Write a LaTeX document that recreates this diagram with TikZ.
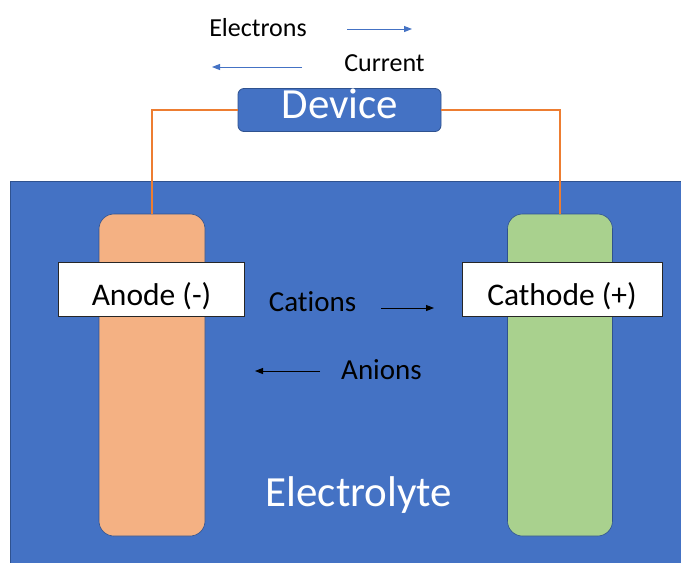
\documentclass[tikz,border=0pt]{standalone}
\usepackage{fontspec}
\setmainfont{Carlito}[Ligatures=NoCommon]
\usetikzlibrary{arrows.meta}
\definecolor{elblue}{HTML}{4472C4}
\definecolor{darkblue}{HTML}{2F528F}
\definecolor{anodefill}{HTML}{F4B183}
\definecolor{cathfill}{HTML}{A9D18E}
\definecolor{wirecol}{HTML}{ED7D31}
\tikzset{
  electrode/.style={draw=darkblue, line width=0.6pt, rounded corners=15pt, minimum width=106pt, minimum height=322pt, inner sep=0pt},
  labelbox/.style={draw=black!85, line width=0.8pt, fill=white, minimum height=54pt, inner sep=0pt},
  txt/.style={inner sep=0pt, anchor=base},
  wireline/.style={draw=wirecol, line width=2pt},
  bluearrow/.style={draw=elblue, line width=1pt, -{Triangle[length=8pt,width=6pt]}},
  blackarrow/.style={draw=black, line width=1pt, -{Triangle[length=8pt,width=6pt]}},
}
\begin{document}
\begin{tikzpicture}[x=1pt,y=-1pt]
\useasboundingbox (0,0) rectangle (681,563);
\fill[white] (0,0) rectangle (681,563);
% electrolyte
\node[draw=darkblue, line width=0.6pt, fill=elblue, minimum width=680pt, minimum height=392pt, inner sep=0pt] (electrolyte) at (350,377) {};
% electrodes
\node[electrode, fill=anodefill] (anode) at (152,375) {};
\node[electrode, fill=cathfill, minimum width=105pt] (cathode) at (560,375) {};
% labels
\node[labelbox, minimum width=186pt] (anodebox) at (151,289) {};
\node[labelbox, minimum width=200pt] (cathbox) at (562,289) {};
\node[txt, font=\fontsize{31.5}{36}\selectfont] (anodetxt) at (151.5,305) {Anode (-)};
\node[txt, font=\fontsize{31.5}{36}\selectfont] (cathtxt) at (562,305) {Cathode (+)};
% device
\node[draw=darkblue, line width=0.8pt, fill=elblue, rounded corners=6pt, minimum width=203pt, minimum height=43pt, inner sep=0pt] (device) at (339.5,110) {};
\node[txt, text=white, font=\fontsize{43}{48}\selectfont] (devicetxt) at (340,118) {Device};
% wires
\draw[wireline] (anode.north) |- (device.west);
\draw[wireline] (device.east) -| (cathode.north);
% texts
\node[txt, font=\fontsize{26}{30}\selectfont] (electrons) at (258,36) {Electrons};
\node[txt, font=\fontsize{26}{30}\selectfont] (current) at (384.5,71) {Current};
\node[txt, font=\fontsize{29}{33}\selectfont] (cations) at (312.5,311) {Cations};
\node[txt, font=\fontsize{29}{33}\selectfont] (anions) at (381.5,379.5) {Anions};
\node[txt, text=white, font=\fontsize{43}{48}\selectfont] (electrolytetxt) at (359,506) {Electrolyte};
% arrows
\coordinate (e1) at (347,29); \coordinate (e2) at (412,29);
\coordinate (c1) at (302,67); \coordinate (c2) at (212,67);
\coordinate (k1) at (381,308); \coordinate (k2) at (434,308);
\coordinate (a1) at (320,371); \coordinate (a2) at (255,371);
\draw[bluearrow] (e1) -- (e2);
\draw[bluearrow] (c1) -- (c2);
\draw[blackarrow] (k1) -- (k2);
\draw[blackarrow] (a1) -- (a2);
\end{tikzpicture}
\end{document}
